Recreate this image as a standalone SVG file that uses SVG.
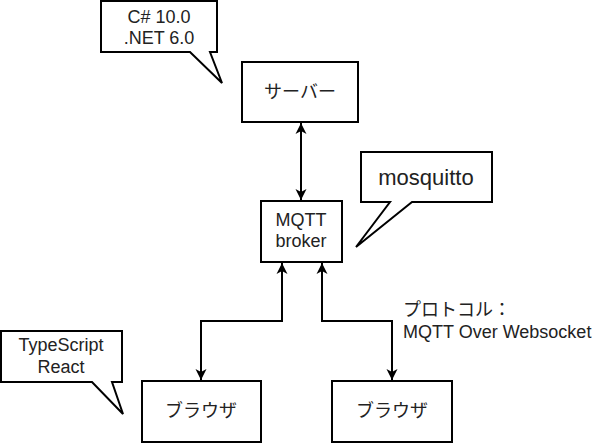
<svg xmlns="http://www.w3.org/2000/svg" width="612" height="443" viewBox="0 0 612 443">
<defs>
<style>
.box{fill:#ffffff;stroke:#000000;stroke-width:2}
.call{fill:#ffffff;stroke:#000000;stroke-width:2;stroke-linejoin:miter}
.t{font-family:"Liberation Sans",Arial,"Noto Sans CJK JP",sans-serif;font-size:18px;fill:#222222;text-anchor:middle}
.tl{font-family:"Liberation Sans",Arial,"Noto Sans CJK JP",sans-serif;font-size:18px;fill:#222222;text-anchor:start}
.c{fill:none;stroke:#000000;stroke-width:2}
</style>
<marker id="ah" markerUnits="userSpaceOnUse" markerWidth="12" markerHeight="12" viewBox="0 0 12 12" refX="11" refY="6" orient="auto-start-reverse">
<path d="M0,0.5 L11,6 L0,11.5 L3,6 Z" fill="#000000"/>
</marker>
</defs>
<g id="callout-csharp">
<path class="call" d="M101,1 H217 V52 H210 L222,83 L190,52 H101 Z"/>
<text class="t" x="159" y="23">C# 10.0</text>
<text class="t" x="159" y="44">.NET 6.0</text>
</g>
<g id="server">
<rect class="box" x="242" y="62" width="116" height="60"/>
<text class="t" x="300" y="98">サーバー</text>
</g>
<g id="callout-mosquitto">
<path class="call" d="M361,152 H492 V202 H412 L356,247 L390,202 H361 Z"/>
<text class="t" x="426" y="185" style="font-size:22px">mosquitto</text>
</g>
<g id="broker">
<rect class="box" x="261" y="201" width="81" height="61"/>
<text class="t" x="301" y="226">MQTT</text>
<text class="t" x="301" y="247">broker</text>
</g>
<g id="callout-typescript">
<path class="call" d="M1,331 H122 V382 H112 L123,414 L92,382 H1 Z"/>
<text class="t" x="61" y="351">TypeScript</text>
<text class="t" x="61" y="373">React</text>
</g>
<g id="browser1">
<rect class="box" x="142" y="381" width="119" height="61"/>
<text class="t" x="201" y="417">ブラウザ</text>
</g>
<g id="browser2">
<rect class="box" x="332" y="381" width="120" height="61"/>
<text class="t" x="392" y="417">ブラウザ</text>
</g>
<g id="connectors">
<path class="c" d="M301,123 V200" marker-start="url(#ah)" marker-end="url(#ah)"/>
<path class="c" d="M282,263 V321 H201 V380" marker-start="url(#ah)" marker-end="url(#ah)"/>
<path class="c" d="M322,263 V321 H392 V380" marker-start="url(#ah)" marker-end="url(#ah)"/>
<text class="tl" x="403" y="316">プロトコル：</text>
<text class="tl" x="403" y="338">MQTT Over Websocket</text>
</g>
</svg>
